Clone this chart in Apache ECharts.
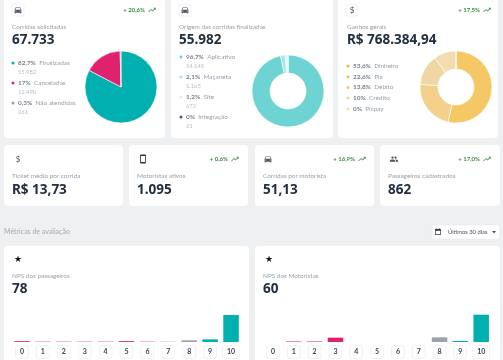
<!DOCTYPE html>
<html lang="pt-BR">
	<head>
		<meta charset="utf-8">
		<title>Dashboard</title>
	</head>
	<style type="text/css">
		* {
			margin: 0;
			padding: 0;
		}

		#chart-container {
			position: relative;
			width: 503px;
			height: 360px;
			overflow: hidden;
		}
	</style>
	<body>
		<div id="chart-container"></div>
		<script src="https://fastly.jsdelivr.net/npm/echarts@6/dist/echarts.min.js"></script>
	</body>
	<script type="text/javascript">
		// dados
		var corridasNomes = ["Finalizadas", "Canceladas", "Não atendidas"];
		var corridasPct = ["82,7%", "17%", "0,3%"];
		var corridasSub = ["55.982", "11.490", "261"];
		var corridasValores = [55982, 11490, 261];

		var origemNomes = ["Aplicativo", "Maçaneta", "Site", "Integração"];
		var origemPct = ["96,7%", "2,1%", "1,2%", "0%"];
		var origemSub = ["54.145", "1.165", "672", "21"];
		var origemValores = [54145, 1165, 672, 21];

		var ganhosNomes = ["Dinheiro", "Pix", "Débito", "Crédito", "Picpay"];
		var ganhosPct = ["53,6%", "22,6%", "13,8%", "10%", "0%"];
		var ganhosValores = [53.6, 22.6, 13.8, 10, 0];

		var notas = ["0", "1", "2", "3", "4", "5", "6", "7", "8", "9", "10"];
		var npsPassageiros = [2.5, 1, 1, 1, 1, 2.5, 1, 1, 5, 8, 81];
		var npsMotoristas = [0, 1.5, 1.5, 13, 0, 0, 0, 0, 14, 3, 82];

		var corEscuro = "#222f3e";
		var corCinza = "#98a0aa";
		var corVerde = "#3c8a4a";
		var fonte = 'Lato, sans-serif';
		var fonteValor = '"Noto Sans", sans-serif';
		var tamLabel = 6.4;

		// icones (24x24), o componente graphic nao aceita type path
		var icones = {
			iconeCarro: "M18.92 6.01C18.72 5.42 18.16 5 17.5 5h-11c-.66 0-1.21.42-1.42 1.01L3 12v8c0 .55.45 1 1 1h1c.55 0 1-.45 1-1v-1h12v1c0 .55.45 1 1 1h1c.55 0 1-.45 1-1v-8l-2.08-5.99zM6.5 16c-.83 0-1.5-.67-1.5-1.5S5.67 13 6.5 13s1.5.67 1.5 1.5S7.33 16 6.5 16zm11 0c-.83 0-1.5-.67-1.5-1.5s.67-1.5 1.5-1.5 1.5.67 1.5 1.5-.67 1.5-1.5 1.5zM5 11l1.5-4.5h11L19 11H5z",
			iconeTrend: "M16 6l2.29 2.29-4.88 4.88-4-4L2 16.59 3.41 18l6-6 4 4 6.3-6.29L22 12V6z",
			iconeFone: "M17 1.01L7 1c-1.1 0-2 .9-2 2v18c0 1.1.9 2 2 2h10c1.1 0 2-.9 2-2V3c0-1.1-.9-1.99-2-1.99zM17 19H7V5h10v14z",
			iconeGrupo: "M16 11c1.66 0 3-1.34 3-3s-1.34-3-3-3-3 1.34-3 3 1.34 3 3 3zm-8 0c1.66 0 3-1.34 3-3S9.66 5 8 5 5 6.34 5 8s1.34 3 3 3zm0 2c-2.33 0-7 1.17-7 3.5V19h14v-2.5c0-2.33-4.67-3.5-7-3.5zm8 0c-.29 0-.62.02-.97.05 1.16.84 1.97 1.97 1.97 3.45V19h6v-2.5c0-2.33-4.67-3.5-7-3.5z",
			iconeCal: "M19 3h-1V1h-2v2H8V1H6v2H5c-1.11 0-2 .9-2 2v14c0 1.1.89 2 2 2h14c1.1 0 2-.9 2-2V5c0-1.1-.9-2-2-2zm0 16H5V8h14v11z"
		};
		Object.keys(icones).forEach(function(nome) {
			echarts.graphic.registerShape(nome, echarts.graphic.extendPath(icones[nome], {}));
		});

		var dom = document.getElementById('chart-container');
		var myChart = echarts.init(dom, null, {
			renderer: 'canvas'
		});

		var g = [];

		function card(x, y, w, h) {
			g.push({
				type: 'rect',
				shape: { x: x, y: y, width: w, height: h, r: 4 },
				style: { fill: '#fff' }
			});
		}

		function txt(s, x, y, size, color, weight, align, family) {
			g.push({
				type: 'text',
				style: {
					text: s,
					x: x,
					y: y,
					fill: color,
					align: align || 'left',
					verticalAlign: 'middle',
					font: (weight || 'normal') + ' ' + size + 'px ' + (family || fonte)
				}
			});
		}

		function valor(s, x, y) {
			txt(s, x, y, 13.5, corEscuro, 'bold', 'left', fonteValor);
		}

		function icon(nome, cx, cy, size, color) {
			g.push({
				type: nome,
				x: cx - size / 2,
				y: cy - size / 2,
				scaleX: size / 24,
				scaleY: size / 24,
				style: { fill: color }
			});
		}

		function iconBox(cx, cy) {
			g.push({
				type: 'rect',
				shape: { x: cx - 6, y: cy - 6, width: 12, height: 12, r: 2 },
				style: { fill: '#fff', stroke: '#f0f1f3', lineWidth: 1 }
			});
		}

		function delta(s, right, cy) {
			txt(s, right, cy, 6, corVerde, 'bold', 'right');
			icon('iconeTrend', right + 7, cy, 9, corVerde);
		}

		function legenda(x, y, step, pct, nomes, sub, cores) {
			pct.forEach(function(p, i) {
				var yy = y + i * step;
				g.push({
					type: 'circle',
					shape: { cx: x, cy: yy, r: 1.5 },
					style: { fill: cores[i] }
				});
				g.push({
					type: 'text',
					style: {
						text: '{b|' + p + '} {n|' + nomes[i] + '}',
						x: x + 5,
						y: yy,
						verticalAlign: 'middle',
						rich: {
							b: { fontFamily: fonte, fontSize: tamLabel, fontWeight: 'bold', fill: '#77808c' },
							n: { fontFamily: fonte, fontSize: tamLabel, fill: corCinza }
						}
					}
				});
				if (sub) {
					txt(sub[i], x + 5, yy + 9, 5.8, '#b8bec6');
				}
			});
		}

		function pie(cx, cy, inner, valores, nomes, cores) {
			return {
				type: 'pie',
				center: [cx, cy],
				radius: [inner, 36],
				startAngle: 90,
				clockwise: true,
				silent: true,
				animation: false,
				label: { show: false },
				labelLine: { show: false },
				itemStyle: { borderColor: '#fff', borderWidth: 0.6 },
				data: valores.map(function(v, i) {
					return { name: nomes[i], value: v, itemStyle: { color: cores[i] } };
				})
			};
		}

		var coresCorridas = ["#00b0b0", "#e0226e", "#9aa0ac"];
		var coresOrigem = ["#6dd3d3", "#a8e5e5", "#d5f2f2", "#4a5260"];
		var coresGanhos = ["#f4c865", "#f3d08c", "#f0d6a4", "#f2dcb0", "#f5e3c0"];
		var coresGanhosLeg = ["#f2b63c", "#f3c05e", "#f3ca7c", "#f4d391", "#f6dca8"];

		// cards de cima
		card(4, -6, 161, 144);
		card(171, -6, 162, 144);
		card(338, -6, 160, 144);
		iconBox(18, 10);
		icon('iconeCarro', 18, 10, 9, '#4a5260');
		iconBox(185, 10);
		icon('iconeCarro', 185, 10, 9, '#4a5260');
		iconBox(352, 10);
		txt('$', 352, 10, 8, '#4a5260', 'normal', 'center');
		delta('+ 20,6%', 145, 10);
		delta('+ 17,5%', 480, 10);
		txt('Corridas solicitadas', 12, 27, tamLabel, corCinza);
		valor('67.733', 12, 40);
		txt('Origem das corridas finalizadas', 179, 27, tamLabel, corCinza);
		valor('55.982', 179, 40);
		txt('Ganhos gerais', 347, 27, tamLabel, corCinza);
		valor('R$ 768.384,94', 347, 40);
		legenda(13, 63, 20, corridasPct, corridasNomes, corridasSub, coresCorridas);
		legenda(181, 57, 20, origemPct, origemNomes, origemSub, coresOrigem);
		legenda(348, 66, 10.7, ganhosPct, ganhosNomes, null, coresGanhosLeg);

		// cards do meio
		card(4, 145, 119, 61);
		card(129, 145, 119, 61);
		card(255, 145, 119, 61);
		card(380, 145, 120, 61);
		txt('$', 18, 159, 8, '#4a5260', 'normal', 'center');
		icon('iconeFone', 143, 159, 10, '#2c3542');
		icon('iconeCarro', 268, 159, 9, '#4a5260');
		icon('iconeGrupo', 394, 159, 9, '#4a5260');
		delta('+ 0,6%', 228, 159);
		delta('+ 16,9%', 355, 159);
		delta('+ 17,0%', 480, 159);
		txt('Ticket médio por corrida', 12, 176, tamLabel, corCinza);
		valor('R$ 13,73', 12, 190);
		txt('Motoristas ativos', 137, 176, tamLabel, corCinza);
		valor('1.095', 137, 190);
		txt('Corridas por motorista', 263, 176, tamLabel, corCinza);
		valor('51,13', 263, 190);
		txt('Passageiros cadastrados', 388, 176, tamLabel, corCinza);
		valor('862', 388, 190);

		// secao de avaliacao
		txt('Métricas de avaliação', 4, 232, 7, '#a4aab2');
		g.push({
			type: 'rect',
			shape: { x: 432, y: 225, width: 68, height: 14, r: 2 },
			style: { fill: '#fff', stroke: '#e4e6e9', lineWidth: 0.5 }
		});
		icon('iconeCal', 438, 232, 8, '#2c3542');
		txt('Últimos 30 dias', 448, 232, 5.8, '#4a5260');
		g.push({
			type: 'polygon',
			shape: { points: [[492, 231], [496, 231], [494, 233.5]] },
			style: { fill: '#4a5260' }
		});

		// cards de baixo
		card(4, 246, 245, 120);
		card(255, 246, 245, 120);
		txt('★', 18, 259, 9, '#111', 'normal', 'center', fonteValor);
		txt('★', 269, 259, 9, '#111', 'normal', 'center', fonteValor);
		txt('NPS dos passageiros', 12, 276, tamLabel, corCinza);
		valor('78', 12, 289);
		txt('NPS dos Motoristas', 263, 276, tamLabel, corCinza);
		valor('60', 263, 289);

		function corNota(i) {
			if (i <= 6) return coresCorridas[1];
			if (i <= 8) return coresCorridas[2];
			return coresCorridas[0];
		}

		function xEixo(idx) {
			return {
				type: 'category',
				gridIndex: idx,
				data: notas,
				axisLine: { show: false },
				axisTick: { show: false },
				axisLabel: {
					interval: 0,
					margin: 4,
					color: '#3a4452',
					fontFamily: fonte,
					fontSize: 7,
					fontWeight: 'bold',
					lineHeight: 8,
					padding: [2, 4],
					borderColor: '#eceef0',
					borderWidth: 0.7,
					borderRadius: 2,
					backgroundColor: '#fff'
				}
			};
		}

		function yEixo(idx) {
			return {
				type: 'value',
				gridIndex: idx,
				min: 0,
				max: 100,
				show: false
			};
		}

		function barras(idx, valores) {
			return {
				type: 'bar',
				xAxisIndex: idx,
				yAxisIndex: idx,
				barWidth: 15.5,
				silent: true,
				animation: false,
				data: valores.map(function(v, i) {
					return { value: v, itemStyle: { color: corNota(i) } };
				})
			};
		}

		var option = {
			backgroundColor: '#eff0f2',
			animation: false,
			graphic: { elements: g },
			grid: [
				{ left: 11.5, width: 230, top: 308.7, height: 33.3 },
				{ left: 262.6, width: 229, top: 308.7, height: 33.3 }
			],
			xAxis: [xEixo(0), xEixo(1)],
			yAxis: [yEixo(0), yEixo(1)],
			series: [
				pie(121, 87, 0, corridasValores, corridasNomes, coresCorridas),
				pie(288, 91, 18, origemValores, origemNomes, coresOrigem),
				pie(456, 87, 18, ganhosValores, ganhosNomes, coresGanhos),
				barras(0, npsPassageiros),
				barras(1, npsMotoristas)
			]
		};

		if (option && typeof option === 'object') {
			myChart.setOption(option);
		}

		window.addEventListener('resize', myChart.resize);
	</script>
</html>
